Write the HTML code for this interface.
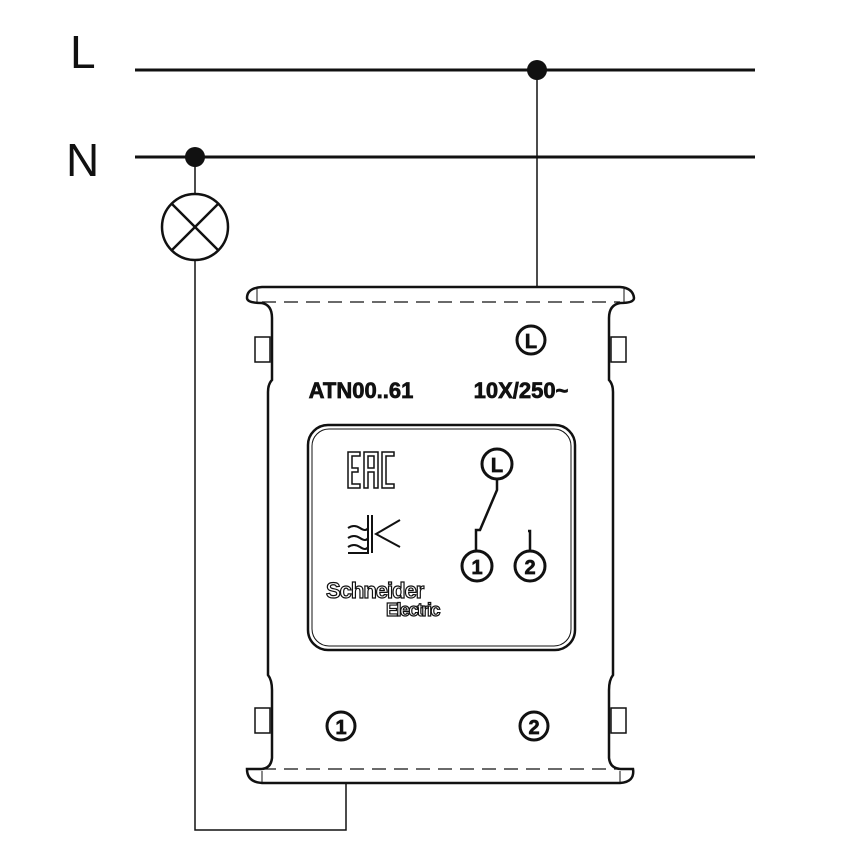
<!DOCTYPE html>
<html><head><style>body{margin:0;background:#fff}svg{display:block}</style></head>
<body>
<svg width="848" height="850" viewBox="0 0 848 850" xmlns="http://www.w3.org/2000/svg" font-family="Liberation Sans, sans-serif">
<g stroke="#111" fill="none">
<line x1="135" y1="70" x2="755" y2="70" stroke-width="3"/>
<line x1="135" y1="157" x2="755" y2="157" stroke-width="3"/>
<line x1="537" y1="70" x2="537" y2="288" stroke-width="1.5"/>
<line x1="195" y1="157" x2="195" y2="194" stroke-width="1.5"/>
<circle cx="195" cy="227" r="33" stroke-width="2.5"/>
<line x1="172" y1="204" x2="218" y2="250" stroke-width="2.5"/>
<line x1="218" y1="204" x2="172" y2="250" stroke-width="2.5"/>
<polyline points="195,260 195,830 346,830 346,783" stroke-width="1.5"/>
<!-- top flange -->
<path d="M262,303 Q247,303 247,298 Q247,288 262,287 L620,287 Q633,288 634,298 Q634,303 620,303" stroke-width="2.5"/>
<line x1="257" y1="289" x2="257" y2="302" stroke-width="1"/>
<line x1="624" y1="289" x2="624" y2="302" stroke-width="1"/>
<line x1="262" y1="302" x2="620" y2="302" stroke-width="1.2" stroke-dasharray="14,8"/>
<!-- bottom flange -->
<path d="M262,769 L247,769 Q247,782 262,783 L620,783 Q635,782 633,769 L620,769" stroke-width="2.5"/>
<line x1="262" y1="769" x2="620" y2="769" stroke-width="1.2" stroke-dasharray="14,8"/>
<line x1="262" y1="771" x2="262" y2="782" stroke-width="1"/>
<line x1="620" y1="771" x2="620" y2="782" stroke-width="1"/>
<!-- body sides -->
<path d="M262,303 Q272,305 272,318 L272,380 Q268,384 268,392 L268,675 Q272,680 272,690 L272,758 Q271,768 262,769" stroke-width="2.5"/>
<path d="M620,303 Q609,305 609,318 L609,380 Q613,384 613,392 L613,675 Q609,680 609,690 L609,758 Q610,768 620,769" stroke-width="2.5"/>
<rect x="255" y="337" width="15" height="25" stroke-width="1.5"/>
<rect x="611" y="337" width="15" height="25" stroke-width="1.5"/>
<rect x="255" y="708" width="15" height="25" stroke-width="1.5"/>
<rect x="611" y="708" width="15" height="25" stroke-width="1.5"/>
<!-- window -->
<rect x="308" y="425" width="267" height="225" rx="20" stroke-width="2.5"/>
<rect x="312" y="429" width="259" height="217" rx="17" stroke-width="1"/>
<!-- circles -->
<g stroke-width="3">
<circle cx="531" cy="340" r="14"/><circle cx="497" cy="464" r="15"/>
<circle cx="477" cy="566" r="15"/><circle cx="530" cy="566" r="15"/>
<circle cx="341" cy="726" r="14"/><circle cx="534" cy="726" r="14"/>
</g>
<g stroke-width="1" stroke="#fff">
<circle cx="531" cy="340" r="11.5"/><circle cx="497" cy="464" r="12.5"/>
<circle cx="477" cy="566" r="12.5"/><circle cx="530" cy="566" r="12.5"/>
<circle cx="341" cy="726" r="11.5"/><circle cx="534" cy="726" r="11.5"/>
</g>
<polyline points="497,479 497,490 480,530 476,530 476,551" stroke-width="2.5"/>
<polyline points="528,531 530,531 530,551" stroke-width="2.5"/>
<!-- EAC -->
<g stroke-width="1.5">
<path d="M348,452 h12 v4 h-8 v12 h6 v4 h-6 v12 h8 v4 h-12 z"/>
<path d="M364,488 v-36 h14 v36 h-4 v-16 h-6 v16 z M368,468 h6 v-12 h-6 z"/>
<path d="M382,452 h12 v4 h-8 v28 h8 v4 h-12 z"/>
<path d="M368,515 v38 h-20 M372,515 v38 M348,528 q6,-4 12,0 t8,0 M348,538 q6,-4 12,0 t8,0 M348,547 q6,-4 12,0 t8,0 M400,520 l-24,14 l24,13" stroke-width="2"/>
</g>
</g>
<g font-weight="bold" fill="#111" stroke="#111" stroke-width="0.7" text-anchor="middle">
<text x="361" y="398" font-size="22">ATN00..61</text>
<text x="521" y="398" font-size="22">10X/250~</text>
<text x="531" y="348" font-size="20">L</text><text x="497" y="472" font-size="20">L</text>
<text x="477" y="574" font-size="20">1</text><text x="530" y="574" font-size="20">2</text>
<text x="341" y="734" font-size="20">1</text><text x="534" y="734" font-size="20">2</text>
</g>
<g fill="#fff" stroke="#111" stroke-width="1.2" font-weight="bold">
<text x="326" y="598" font-size="22" letter-spacing="-1">Schneider</text>
<text x="386" y="616" font-size="18" letter-spacing="-1.5">Electric</text>
</g>
<g fill="#111" font-size="46">
<text x="70" y="68">L</text>
<text x="66" y="176">N</text>
</g>
<circle cx="537" cy="70" r="10" fill="#111"/>
<circle cx="195" cy="157" r="10" fill="#111"/>
</svg>
</body></html>
